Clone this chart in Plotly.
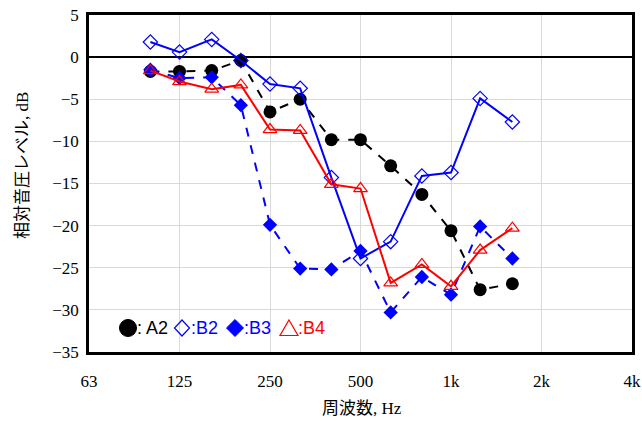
import math
import plotly.graph_objects as go

freqs = [100, 125, 160, 200, 250, 315, 400, 500, 630, 800, 1000, 1250, 1600]
a2 = [-1.7, -1.7, -1.6, -0.4, -6.5, -5.0, -9.8, -9.8, -12.9, -16.3, -20.6, -27.6, -26.9]
b2 = [1.8, 0.6, 2.1, -0.4, -3.2, -3.7, -14.3, -23.9, -21.9, -14.1, -13.7, -4.9, -7.7]
b3 = [-1.5, -2.5, -2.4, -5.7, -19.9, -25.1, -25.2, -23.0, -30.3, -26.1, -28.2, -20.1, -23.9]
b4 = [-1.6, -2.9, -3.8, -3.3, -8.6, -8.7, -15.1, -15.6, -26.8, -24.6, -27.2, -22.9, -20.3]

xtick_vals = [62.5, 125, 250, 500, 1000, 2000, 4000]
xtick_text = ["63", "125", "250", "500", "1k", "2k", "4k"]
ytick_vals = [5, 0, -5, -10, -15, -20, -25, -30, -35]

BLUE = "#0000FF"
RED = "#FF0000"

# body margin removed via post_script; plot area in page px: x 89..632, y 15..352
W, H = 642, 421
ML, MR, MT, MB = 89, 10, 15, 69
PL, PR, PT, PB = 89, 632, 15, 352


def px(x, y):
    return (x - PL) / (PR - PL), (PB - y) / (PB - PT)


fig = go.Figure()

fig.add_trace(go.Scatter(x=freqs, y=a2, mode="lines+markers", name="A2",
                         line=dict(color="black", width=2, dash="dash"),
                         marker=dict(symbol="circle", size=13, color="black")))
fig.add_trace(go.Scatter(x=freqs, y=b2, mode="lines+markers", name="B2",
                         line=dict(color=BLUE, width=2),
                         marker=dict(symbol="diamond-open", size=11, color=BLUE, line=dict(width=1.2))))
fig.add_trace(go.Scatter(x=freqs, y=b3, mode="lines+markers", name="B3",
                         line=dict(color=BLUE, width=2, dash="dash"),
                         marker=dict(symbol="diamond", size=11, color=BLUE)))
fig.add_trace(go.Scatter(x=freqs, y=b4, mode="lines+markers", name="B4",
                         line=dict(color=RED, width=2),
                         marker=dict(symbol="triangle-up-open", size=12, color=RED, line=dict(width=1.2))))

shapes = []
annotations = []
cy = 328


def path(points, close=True):
    s = ""
    for i, (x, y) in enumerate(points):
        X, Y = px(x, y)
        s += ("M" if i == 0 else "L") + f"{X:.5f},{Y:.5f}"
    return s + ("Z" if close else "")


# legend glyphs
x0, y0 = px(128 - 8.5, cy + 8.5)
x1, y1 = px(128 + 8.5, cy - 8.5)
shapes.append(dict(type="circle", xref="paper", yref="paper", x0=x0, y0=y0, x1=x1, y1=y1,
                   fillcolor="black", line=dict(color="black", width=1)))
shapes.append(dict(type="path", xref="paper", yref="paper",
                   path=path([(182, cy - 8), (189.5, cy), (182, cy + 8), (174.5, cy)]),
                   fillcolor="rgba(0,0,0,0)", line=dict(color=BLUE, width=1.2)))
shapes.append(dict(type="path", xref="paper", yref="paper",
                   path=path([(235, cy - 8.5), (243.5, cy), (235, cy + 8.5), (226.5, cy)]),
                   fillcolor=BLUE, line=dict(color=BLUE, width=1)))
shapes.append(dict(type="path", xref="paper", yref="paper",
                   path=path([(289, cy - 8), (298, cy + 7.5), (280, cy + 7.5)]),
                   fillcolor="rgba(0,0,0,0)", line=dict(color=RED, width=1.2)))

leg_text = [(137, ": A2", "black"), (191, ":B2", BLUE), (244, ":B3", BLUE), (298, ":B4", RED)]
for lx, t, c in leg_text:
    X, Y = px(lx, cy)
    annotations.append(dict(x=X, y=Y, xref="paper", yref="paper", text=t, showarrow=False,
                            xanchor="left", yanchor="middle", xshift=-2,
                            font=dict(family="Liberation Sans, Arial", size=18, color=c)))

title_font = dict(family="Liberation Serif, Noto Sans CJK JP", size=17, color="black")
X, Y = px(362, 408)
annotations.append(dict(x=X, y=Y, xref="paper", yref="paper", text="周波数, Hz", showarrow=False,
                        xanchor="center", yanchor="middle", font=title_font))
X, Y = px(22, 166)
annotations.append(dict(x=X, y=Y, xref="paper", yref="paper", text="相対音圧レベル, dB", showarrow=False,
                        xanchor="center", yanchor="middle", textangle=-90, font=title_font))

axis_font = dict(family="Liberation Serif", size=17, color="black")

fig.update_layout(
    width=W, height=H,
    margin=dict(l=ML, r=MR, t=MT, b=MB, autoexpand=False),
    paper_bgcolor="white", plot_bgcolor="white",
    font=axis_font,
    showlegend=False,
    shapes=shapes,
    annotations=annotations,
    xaxis=dict(type="log", range=[math.log10(62.5), math.log10(4000)], automargin=False,
               tickvals=xtick_vals, ticktext=xtick_text, showgrid=True, gridcolor="#D9D9D9", gridwidth=1,
               showline=True, linecolor="black", linewidth=2.5, mirror=True, ticks="outside",
               ticklen=12, tickcolor="rgba(0,0,0,0)", ticklabeloverflow="allow",
               tickfont=axis_font),
    yaxis=dict(range=[-35, 5], tickvals=ytick_vals, showgrid=True, gridcolor="#D9D9D9", gridwidth=1,
               automargin=False, ticklabeloverflow="allow",
               zeroline=True, zerolinecolor="black", zerolinewidth=2,
               showline=True, linecolor="black", linewidth=2.5, mirror=True, ticks="outside",
               ticklen=4, tickcolor="rgba(0,0,0,0)",
               tickfont=axis_font),
)

fig.write_html("out.html", config={"displayModeBar": False},
               post_script="document.body.style.margin='0';document.body.style.overflow='hidden';")
